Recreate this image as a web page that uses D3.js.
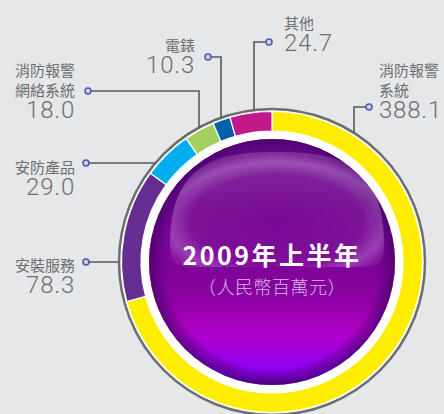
<!DOCTYPE html>
<html>
<head>
<meta charset="utf-8">
<script src="https://cdn.jsdelivr.net/npm/d3@7"></script>
<style>
  html, body { margin: 0; padding: 0; background: #e6e7e8; }
  svg { display: block; }
</style>
</head>
<body>
<div id="chart"></div>
<script>
// segment order goes clockwise from 12 o'clock
const categories = ["消防報警系統", "安裝服務", "安防產品", "消防報警網絡系統", "電錶", "其他"];
const labelLines = [["消防報警", "系統"], ["安裝服務"], ["安防產品"], ["消防報警", "網絡系統"], ["電錶"], ["其他"]];
const values = [388.1, 78.3, 29.0, 18.0, 10.3, 24.7];
const colors = ["#ffed00", "#662d91", "#00aeef", "#a5d05d", "#0061aa", "#c4178a"];
const title = "2009年上半年";
const subtitle = "（人民幣百萬元）";

// where each label sits (layout only)
const labelLayout = [
  {x: 379, y: 76, anchor: "start", dot: [369, 107], elbowX: 354},
  {x: 75, y: 271, anchor: "end", dot: [86, 262], elbowX: null},
  {x: 75, y: 173, anchor: "end", dot: [86, 163], elbowX: null},
  {x: 75, y: 76, anchor: "end", dot: [88, 91], elbowX: 199},
  {x: 195, y: 51, anchor: "end", dot: [208, 57], elbowX: 221},
  {x: 284, y: 29, anchor: "start", dot: [269, 42], elbowX: 254}
];

const width = 444, height = 414;
const cx = 272, cy = 262;
const rBorder = 153, rOuter = 150.5, rInner = 131, rBall = 123;

const svg = d3.select("#chart").append("svg")
    .attr("width", width)
    .attr("height", height);

const defs = svg.append("defs");

// ball body gradient (top dark purple -> magenta -> violet)
const ballGrad = defs.append("linearGradient")
    .attr("id", "ballGrad")
    .attr("x1", 0).attr("y1", 0).attr("x2", 0).attr("y2", 1);
[[0, "#6c0a8c"], [0.45, "#790594"], [0.62, "#86029e"], [0.78, "#b000c4"], [0.9, "#9a00ea"], [0.96, "#8800f5"], [1, "#6a00b0"]]
  .forEach(s => ballGrad.append("stop").attr("offset", s[0]).attr("stop-color", s[1]));

// darken the rim of the ball
const rimGrad = defs.append("radialGradient")
    .attr("id", "rimGrad")
    .attr("cx", 0.5).attr("cy", 0.5).attr("r", 0.5);
rimGrad.append("stop").attr("offset", 0.87).attr("stop-color", "#3c005a").attr("stop-opacity", 0);
rimGrad.append("stop").attr("offset", 0.95).attr("stop-color", "#4a0070").attr("stop-opacity", 0.5);
rimGrad.append("stop").attr("offset", 1).attr("stop-color", "#3c005a").attr("stop-opacity", 0.65);

// glossy highlight: mostly clear, lighter rim
const glossGrad = defs.append("radialGradient")
    .attr("id", "glossGrad")
    .attr("cx", 0.5).attr("cy", 0.6).attr("r", 0.58);
glossGrad.append("stop").attr("offset", 0).attr("stop-color", "#ffffff").attr("stop-opacity", 0.0);
glossGrad.append("stop").attr("offset", 0.7).attr("stop-color", "#ffffff").attr("stop-opacity", 0.04);
glossGrad.append("stop").attr("offset", 0.88).attr("stop-color", "#f0c8ff").attr("stop-opacity", 0.28);
glossGrad.append("stop").attr("offset", 1).attr("stop-color", "#f0c8ff").attr("stop-opacity", 0.08);

const glossFade = defs.append("linearGradient")
    .attr("id", "glossFade")
    .attr("x1", 0).attr("y1", 0).attr("x2", 0).attr("y2", 1);
glossFade.append("stop").attr("offset", 0).attr("stop-color", "#ffffff").attr("stop-opacity", 0.1);
glossFade.append("stop").attr("offset", 0.5).attr("stop-color", "#ffffff").attr("stop-opacity", 0.02);
glossFade.append("stop").attr("offset", 1).attr("stop-color", "#ffffff").attr("stop-opacity", 0.0);

const g = svg.append("g").attr("transform", `translate(${cx},${cy})`);

// outer gray border
g.append("circle")
    .attr("r", rBorder)
    .attr("fill", "#ffffff")
    .attr("stroke", "#6d6e70")
    .attr("stroke-width", 2.5);

const pie = d3.pie().sort(null).value(d => d)
    .startAngle(0).endAngle(2 * Math.PI);
const arc = d3.arc().innerRadius(rInner).outerRadius(rOuter);

g.selectAll("path.seg")
  .data(pie(values))
  .join("path")
    .attr("class", "seg")
    .attr("d", arc)
    .attr("fill", (d, i) => colors[i])
    .attr("stroke", "#ffffff")
    .attr("stroke-width", 1.2);

// white gap + ball
g.append("circle").attr("r", rInner).attr("fill", "#ffffff");
g.append("circle").attr("r", rBall).attr("fill", "url(#ballGrad)");
g.append("circle").attr("r", rBall).attr("fill", "url(#rimGrad)");

// gloss dome
const gw = 107, gtop = -110, gbot = 5;
const glossPath = `M${-gw},${gbot - 22}
  C${-gw},${gtop + 10} ${-gw * 0.55},${gtop} 0,${gtop}
  C${gw * 0.55},${gtop} ${gw},${gtop + 10} ${gw},${gbot - 22}
  C${gw},${gbot} ${gw - 10},${gbot} ${gw - 30},${gbot}
  L${-gw + 30},${gbot}
  C${-gw + 10},${gbot} ${-gw},${gbot} ${-gw},${gbot - 22} Z`;
g.append("path").attr("d", glossPath).attr("transform", "translate(5,0)").attr("fill", "url(#glossGrad)");
g.append("path").attr("d", glossPath).attr("transform", "translate(5,0)").attr("fill", "url(#glossFade)");

// centre texts
g.append("text")
    .attr("y", 3)
    .attr("text-anchor", "middle")
    .attr("fill", "#ffffff")
    .style("font-family", "'Noto Sans CJK TC', 'Noto Sans', sans-serif")
    .style("font-weight", "bold")
    .style("font-size", "25px")
    .style("letter-spacing", "2.5px")
    .text(title);

g.append("text")
    .attr("y", 32)
    .attr("text-anchor", "middle")
    .attr("fill", "#dcb6ea")
    .style("font-family", "'Noto Sans CJK TC', sans-serif")
    .style("font-weight", 300)
    .style("font-size", "18px")
    .style("letter-spacing", "0.5px")
    .text(subtitle);

// leader lines + labels
const ringY = x => cy - Math.sqrt(rBorder * rBorder - (x - cx) * (x - cx));
const ringX = y => cx - Math.sqrt(rBorder * rBorder - (y - cy) * (y - cy));

const labels = svg.append("g");
categories.forEach((cat, i) => {
  const L = labelLayout[i];
  const [dx, dy] = L.dot;
  let pts;
  if (L.elbowX !== null) {
    pts = [[dx, dy], [L.elbowX, dy], [L.elbowX, ringY(L.elbowX)]];
  } else {
    pts = [[dx, dy], [ringX(dy), dy]];
  }
  labels.append("path")
      .attr("d", d3.line()(pts))
      .attr("fill", "none")
      .attr("stroke", "#58595b")
      .attr("stroke-width", 1.6);

  labels.append("circle")
      .attr("cx", dx).attr("cy", dy).attr("r", 3)
      .attr("fill", "#c9cff0")
      .attr("stroke", "#4b5aa8")
      .attr("stroke-width", 1.5);

  const lines = labelLines[i];
  const t = labels.append("g").attr("fill", "#6d6e71");
  lines.forEach((ln, j) => {
    t.append("text")
        .attr("x", L.x)
        .attr("y", L.y + j * 20)
        .attr("text-anchor", L.anchor)
        .style("font-family", "'Noto Sans CJK TC', sans-serif")
        .style("font-size", "15px")
        .text(ln);
  });
  t.append("text")
      .attr("x", L.x)
      .attr("y", L.y + (lines.length - 1) * 20 + 22)
      .attr("text-anchor", L.anchor)
      .style("font-family", "Roboto, 'Liberation Sans', sans-serif")
      .style("font-weight", 300)
      .style("font-size", "24px")
      .style("letter-spacing", "0.8px")
      .text(values[i].toFixed(1));
});
</script>
</body>
</html>
